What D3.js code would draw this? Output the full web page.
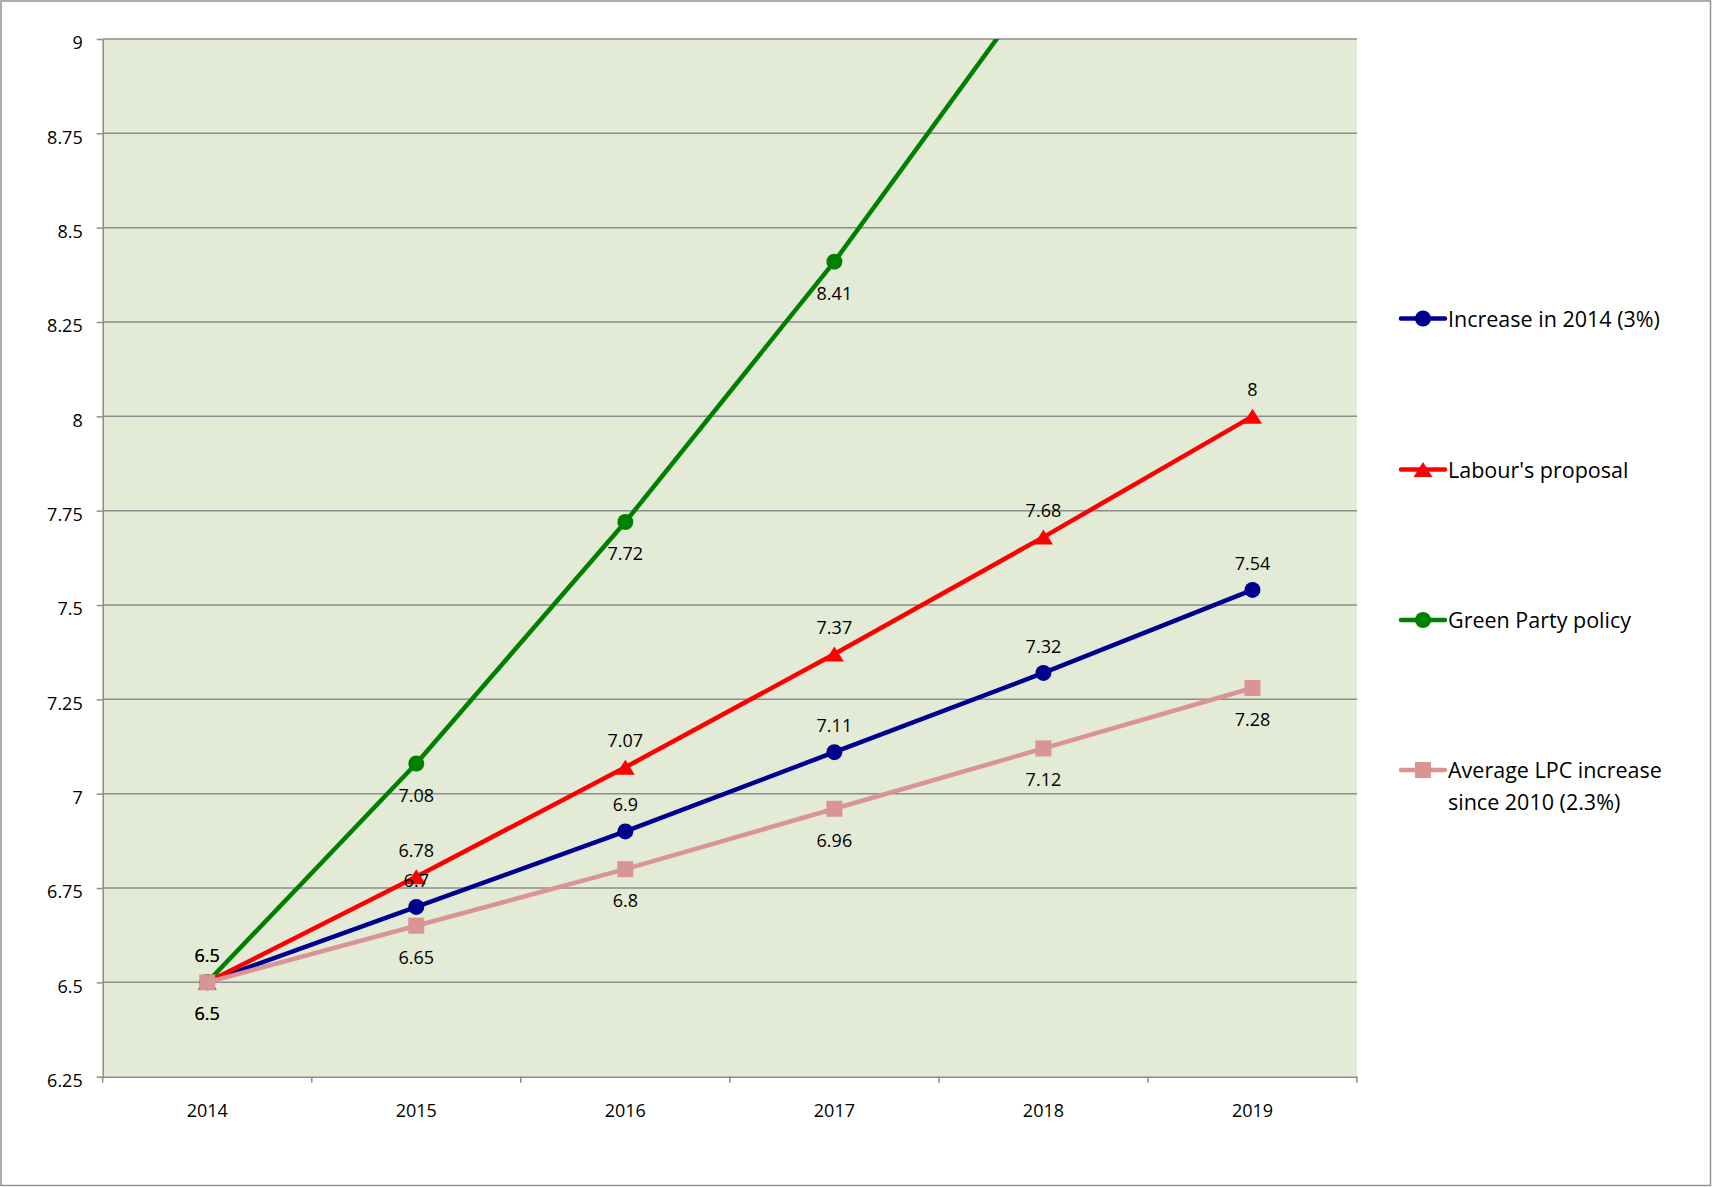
<!DOCTYPE html>
<html>
<head>
<meta charset="utf-8">
<script src="https://cdn.jsdelivr.net/npm/d3@7"></script>
<style>
  html, body { margin: 0; padding: 0; background: #fff; }
  svg { display: block; font-family: "Open Sans", "Noto Sans", sans-serif; }
</style>
</head>
<body>
<svg id="chart" width="1712" height="1187"></svg>
<script>
// ---- Data ----
const years = ["2014", "2015", "2016", "2017", "2018", "2019"];
const increase2014 = [6.5, 6.7, 6.9, 7.11, 7.32, 7.54];
const labourProposal = [6.5, 6.78, 7.07, 7.37, 7.68, 8];
const greenPolicy = [6.5, 7.08, 7.72, 8.41, 9.17, 10];
const averageLPC = [6.5, 6.65, 6.8, 6.96, 7.12, 7.28];
const yTickValues = [6.25, 6.5, 6.75, 7, 7.25, 7.5, 7.75, 8, 8.25, 8.5, 8.75, 9];
const yTickLabels = ["6.25", "6.5", "6.75", "7", "7.25", "7.5", "7.75", "8", "8.25", "8.5", "8.75", "9"];
const seriesNames = ["Increase in 2014 (3%)", "Labour's proposal", "Green Party policy", ["Average LPC increase", "since 2010 (2.3%)"]];

const series = [
  { name: seriesNames[0], values: increase2014, color: "#00008E", marker: "circle", label: "above" },
  { name: seriesNames[1], values: labourProposal, color: "#FF0000", marker: "triangle", label: "above" },
  { name: seriesNames[2], values: greenPolicy, color: "#008000", marker: "circle", label: "below" },
  { name: seriesNames[3], values: averageLPC, color: "#D99595", marker: "square", label: "below" }
];

// ---- Layout ----
const svg = d3.select("#chart");
const W = 1712, H = 1187;
const plot = { left: 102.7, right: 1357, top: 39, bottom: 1076.7 };

svg.append("rect").attr("x", 1).attr("y", 1).attr("width", W - 2.5).attr("height", H - 2.5)
  .attr("fill", "#fff").attr("stroke", "#939393").attr("stroke-width", 1.5);

const x = d3.scaleBand().domain(years).range([plot.left, plot.right]).padding(0);
const cx = d => x(d) + x.bandwidth() / 2;
const y = d3.scaleLinear().domain([6.25, 9]).range([plot.bottom, plot.top]);

// plot background
svg.append("rect").attr("x", plot.left).attr("y", plot.top)
  .attr("width", plot.right - plot.left).attr("height", plot.bottom - plot.top)
  .attr("fill", "#E3EBD6");

// gridlines
svg.append("g").selectAll("line").data(yTickValues.filter(v => v > 6.25)).join("line")
  .attr("x1", plot.left).attr("x2", plot.right)
  .attr("y1", d => y(d)).attr("y2", d => y(d))
  .attr("stroke", "#8C8C8C").attr("stroke-width", 1.5);

// y axis
const yAxis = d3.axisLeft(y).tickValues(yTickValues).tickSize(6).tickSizeOuter(0)
  .tickFormat((d, i) => yTickLabels[i]);
const gy = svg.append("g").attr("transform", `translate(${plot.left},0)`).call(yAxis);
gy.select(".domain").attr("stroke", "#8C8C8C").attr("stroke-width", 1.5);
gy.selectAll(".tick line").attr("stroke", "#8C8C8C").attr("stroke-width", 1.5);
gy.selectAll(".tick text").attr("font-size", 18).attr("fill", "#000")
  .attr("font-family", "'Open Sans', sans-serif")
  .attr("x", -20).attr("dy", "0.55em");

// x axis
const xAxis = d3.axisBottom(x).tickSize(0).tickSizeOuter(0);
const gx = svg.append("g").attr("transform", `translate(0,${plot.bottom})`).call(xAxis);
gx.select(".domain").attr("stroke", "#8C8C8C").attr("stroke-width", 1.5);
gx.selectAll(".tick text").attr("font-size", 18).attr("fill", "#000")
  .attr("font-family", "'Open Sans', sans-serif")
  .attr("y", 34).attr("dy", "0.35em");
// category boundary ticks
const bounds = years.map(d => x(d)).concat([plot.right]);
gx.append("g").selectAll("line").data(bounds).join("line")
  .attr("x1", d => d).attr("x2", d => d).attr("y1", 0).attr("y2", 6)
  .attr("stroke", "#8C8C8C").attr("stroke-width", 1.5);

// clip
svg.append("clipPath").attr("id", "clip").append("rect")
  .attr("x", plot.left).attr("y", plot.top)
  .attr("width", plot.right - plot.left).attr("height", plot.bottom - plot.top);

const line = d3.line().x((d, i) => cx(years[i])).y(d => y(d));

function drawMarker(g, type, px, py, color, s) {
  if (type === "circle") {
    g.append("circle").attr("cx", px).attr("cy", py).attr("r", s.r).attr("fill", color);
  } else if (type === "square") {
    g.append("rect").attr("x", px - s.sq / 2).attr("y", py - s.sq / 2)
      .attr("width", s.sq).attr("height", s.sq).attr("fill", color);
  } else {
    const w = s.tw, h = s.th;
    g.append("path").attr("d", `M${px},${py - h / 2}L${px + w / 2},${py + h / 2}L${px - w / 2},${py + h / 2}Z`)
      .attr("fill", color);
  }
}
const markerSize = { r: 8, sq: 16, tw: 19, th: 15 };

const gLines = svg.append("g").attr("clip-path", "url(#clip)");
series.forEach(s => {
  const g = gLines.append("g");
  g.append("path").datum(s.values).attr("d", line)
    .attr("fill", "none").attr("stroke", s.color).attr("stroke-width", 4.5)
    .attr("stroke-linejoin", "round");
  s.values.forEach((v, i) => {
    if (v <= 9) drawMarker(g, s.marker, cx(years[i]), y(v), s.color, markerSize);
  });
});

// data labels
const gLabels = svg.append("g");
series.forEach(s => {
  s.values.forEach((v, i) => {
    if (v > 9) return;
    gLabels.append("text")
      .attr("x", cx(years[i]))
      .attr("y", s.label === "above" ? y(v) - 20 : y(v) + 38)
      .attr("text-anchor", "middle").attr("font-size", 18).attr("fill", "#000")
      .text(String(v));
  });
});

// legend
const legendY = [318.5, 469.5, 620, 770];
const gLeg = svg.append("g");
series.forEach((s, i) => {
  const ly = legendY[i];
  gLeg.append("line").attr("x1", 1401).attr("x2", 1445).attr("y1", ly).attr("y2", ly)
    .attr("stroke", s.color).attr("stroke-width", 4.5).attr("stroke-linecap", "round");
  drawMarker(gLeg, s.marker, 1423, ly, s.color, markerSize);
  const names = Array.isArray(s.name) ? s.name : [s.name];
  const t = gLeg.append("text").attr("x", 1448).attr("y", ly + 8)
    .attr("font-size", 21.5).attr("fill", "#000");
  names.forEach((n, k) => {
    t.append("tspan").attr("x", 1448).attr("dy", k === 0 ? 0 : 31.5).text(n);
  });
});
</script>
</body>
</html>
